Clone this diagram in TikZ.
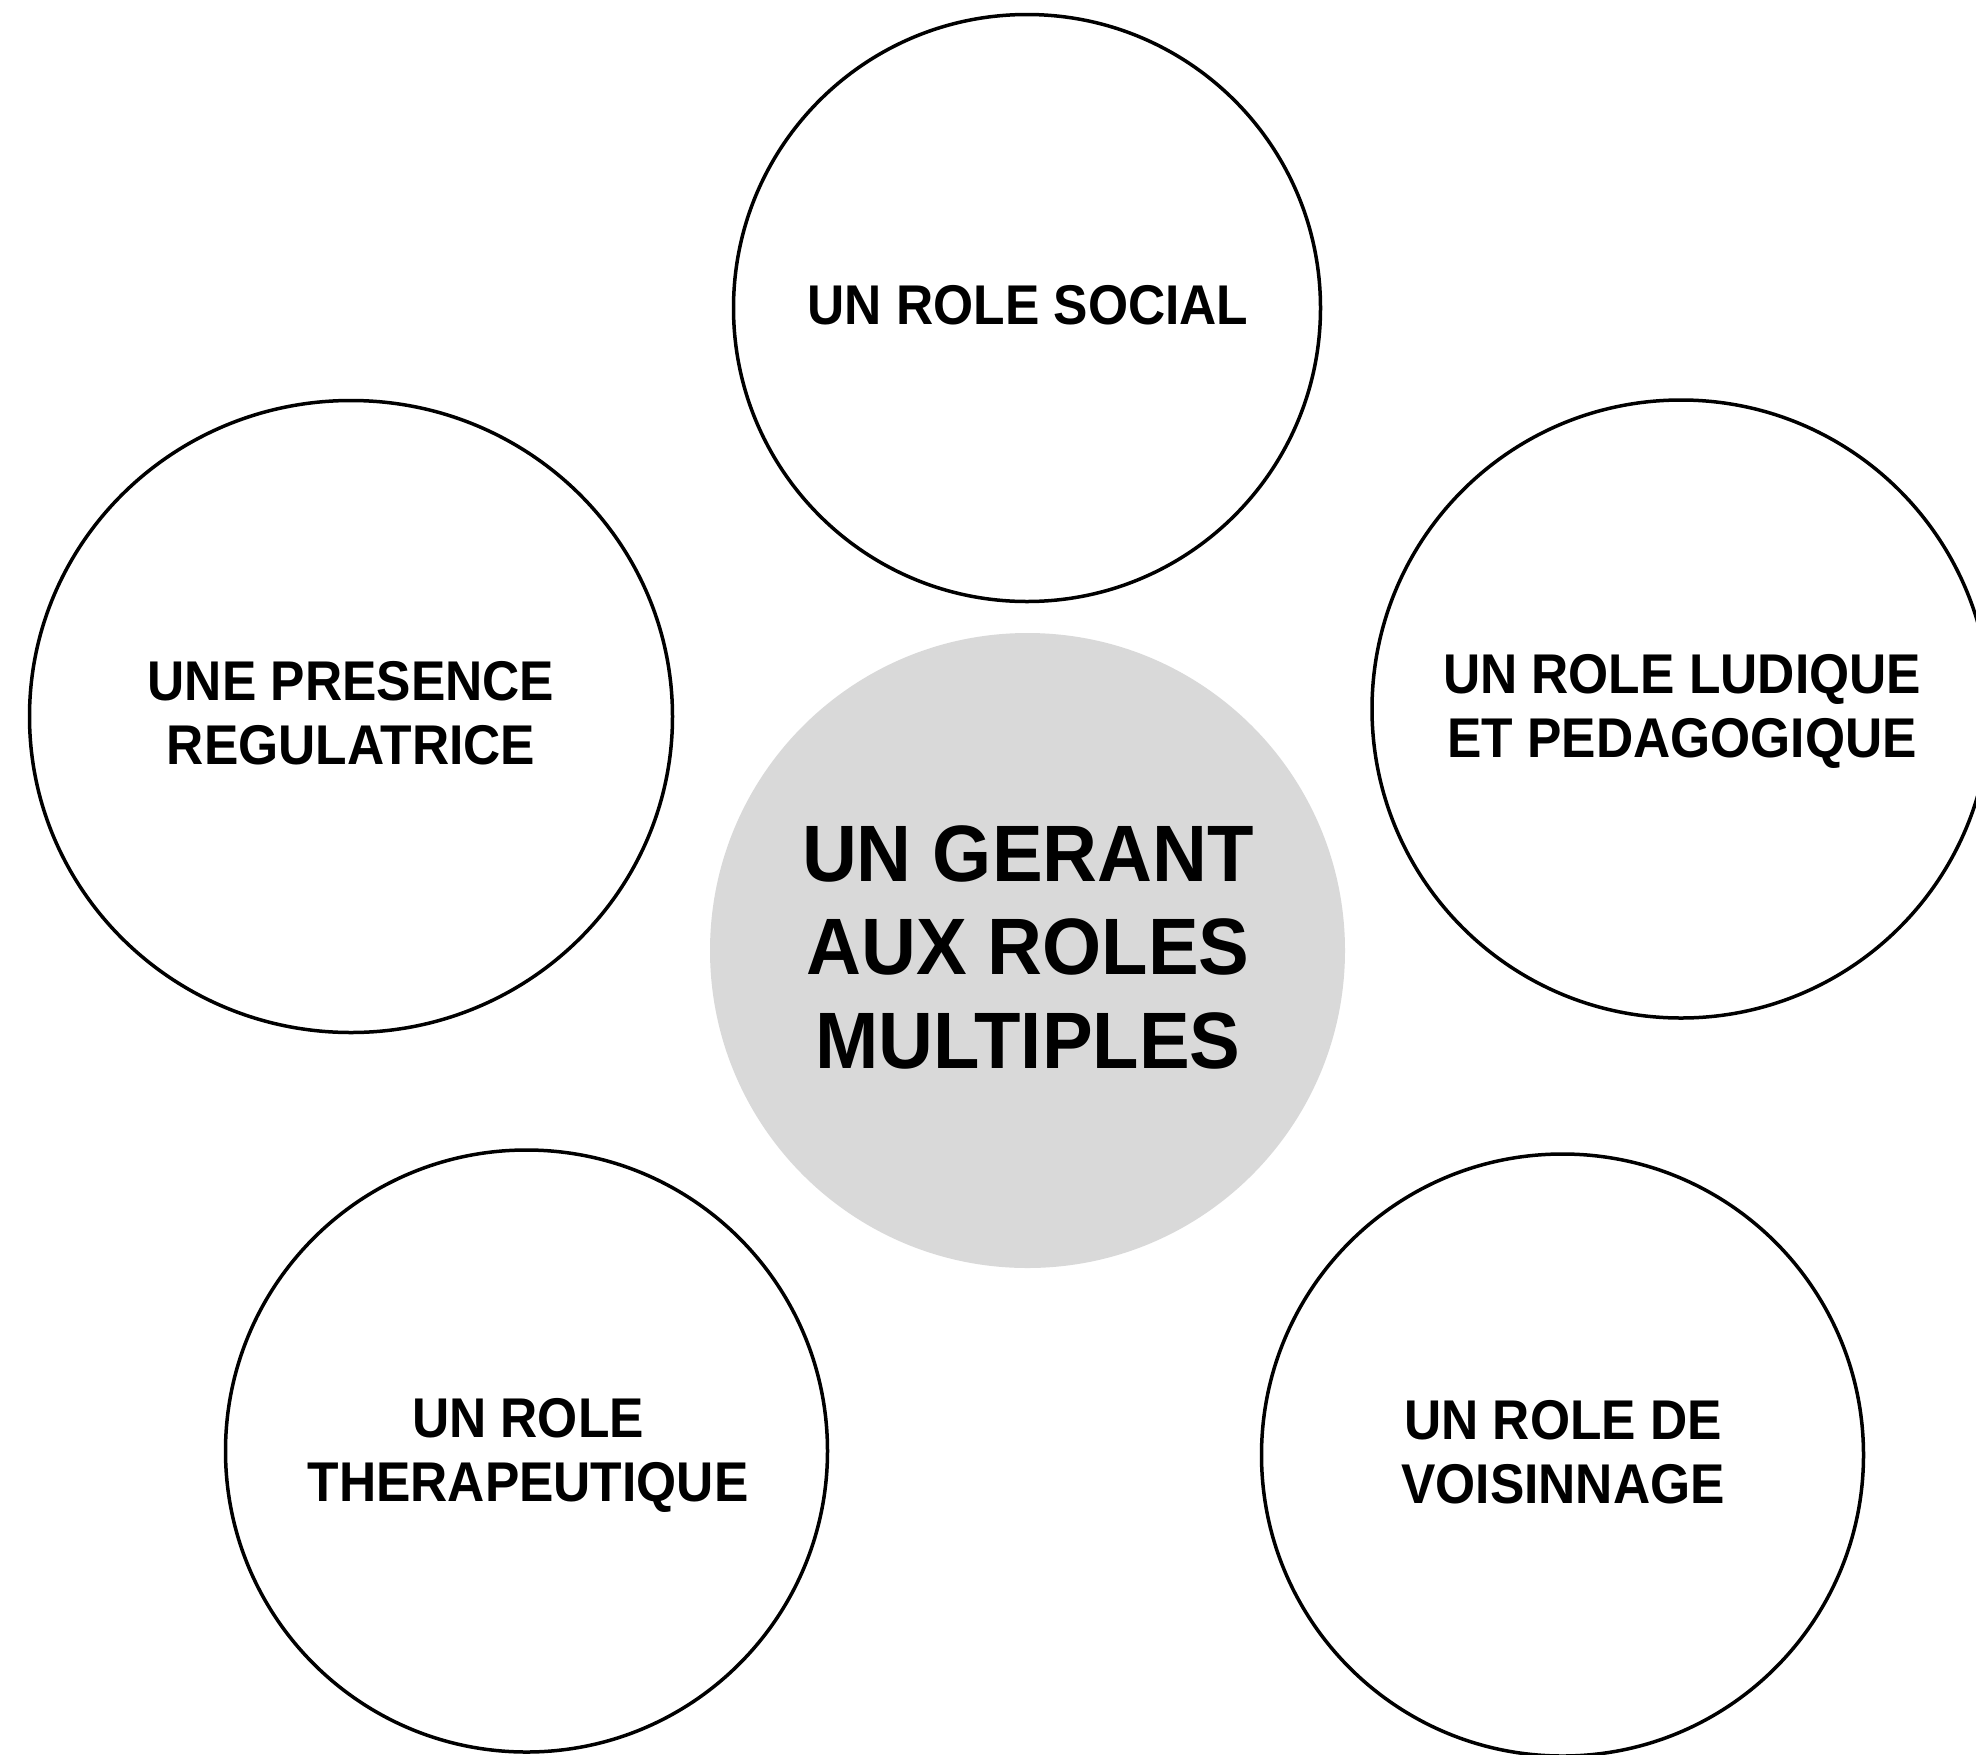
\documentclass[tikz,border=0pt]{standalone}
\usepackage{fontspec}
\usetikzlibrary{shapes.geometric}
\newfontfamily\labfont{Liberation Sans}[FakeStretch=0.92]
\newfontfamily\bigfont{Liberation Sans}[FakeStretch=0.95]
\definecolor{hubgray}{HTML}{D9D9D9}
\begin{document}
\begin{tikzpicture}[x=1pt,y=-1pt,
  ring/.style={draw=black,line width=3.5pt,circle,inner sep=0pt},
  hub/.style={fill=hubgray,draw=none,circle,inner sep=0pt},
  lab/.style={inner sep=0pt,align=center,text=black,font=\labfont\bfseries\fontsize{56}{64}\selectfont},
  biglab/.style={inner sep=0pt,align=center,text=black,font=\bigfont\bfseries\fontsize{80}{93.5}\selectfont}]
\useasboundingbox (0,0) rectangle (1976,1754);
\clip (0,0) rectangle (1976,1754);
\fill[white] (0,0) rectangle (1976,1754);
% circles
\node[hub,minimum size=635pt] (hubc) at (1027.5,950.5) {};
\node[ring,minimum size=587pt] (ctop) at (1027,308) {};
\node[draw=black,line width=3.5pt,ellipse,inner sep=0pt,minimum width=643pt,minimum height=632pt] (cleft) at (351,716.5) {};
\node[ring,minimum size=618pt] (cright) at (1681,709) {};
\node[ring,minimum size=602pt] (cbl) at (526.5,1451) {};
\node[ring,minimum size=602pt] (cbr) at (1562.5,1455) {};
% texts
\node[lab] (ttop) at (1028,305) {UN ROLE SOCIAL};
\node[lab] (tleft) at (351,713) {UNE PRESENCE\\REGULATRICE};
\node[lab] (tright) at (1682,711) {UN ROLE LUDIQUE\\ET PEDAGOGIQUE};
\node[lab] (tbl) at (528,1455) {UN ROLE\\THERAPEUTIQUE};
\node[lab] (tbr) at (1563,1452) {UN ROLE DE\\VOISINNAGE};
\node[biglab] (thub) at (1028,947) {UN GERANT\\AUX ROLES\\MULTIPLES};
\end{tikzpicture}
\end{document}
